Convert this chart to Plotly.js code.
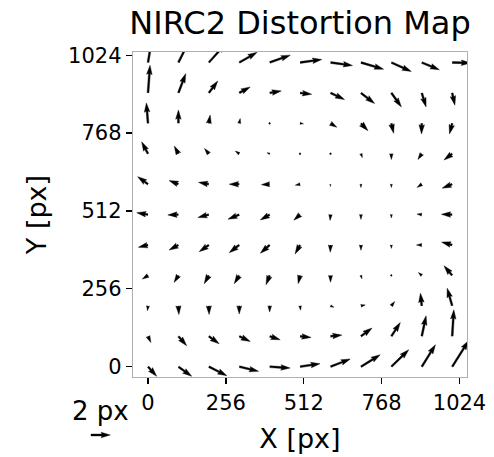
<!DOCTYPE html>
<html><head><meta charset="utf-8">
<script src="https://cdn.plot.ly/plotly-3.0.1.min.js"></script>
<style>html,body{margin:0;padding:0;background:#fff;}</style>
</head><body>
<div id="chart" style="width:494px;height:457px;"></div>
<script>
// grid positions of the distortion samples (detector pixels)
const gridX = [0, 100, 200, 300, 400, 500, 600, 700, 800, 900, 1000];
const gridY = [0, 100, 200, 300, 400, 500, 600, 700, 800, 900, 1000];
// distortion in X (px); one row per gridY value, one column per gridX value
const dxPx = [
  [0.9, 1.38, 1.87, 2.0, 2.12, 2.07, 2.05, 2.0, 1.8, 1.42, 1.7],
  [0.3, 0.86, 1.07, 1.14, 1.09, 1.14, 1.18, 1.15, 0.93, 0.45, 0.17],
  [-0.05, 0.05, 0.03, 0.0, 0.0, 0.05, 0.35, 0.45, 0.35, -0.14, -0.52],
  [-0.59, -0.45, -0.48, -0.52, -0.38, -0.2, 0.0, 0.1, 0.05, -0.35, -0.85],
  [-1.0, -0.97, -1.0, -1.04, -0.97, -0.52, -0.03, 0.0, 0.0, -0.55, -1.1],
  [-1.17, -1.1, -1.14, -1.17, -0.97, -0.65, -0.05, 0.0, 0.0, -0.5, -1.12],
  [-1.07, -0.97, -1.07, -1.04, -0.86, -0.5, 0.0, 0.0, 0.0, -0.48, -1.04],
  [-0.66, -0.43, -0.45, -0.41, -0.28, 0.05, 0.05, 0.15, 0.0, -0.4, -0.85],
  [-0.17, 0.0, 0.14, 0.1, 0.05, 0.35, 0.66, 0.73, 0.24, -0.03, -0.28],
  [0.21, 0.76, 0.93, 1.14, 1.2, 1.2, 1.45, 1.42, 1.04, 0.45, 0.28],
  [0.5, 1.25, 1.75, 1.85, 2.14, 2.25, 2.28, 2.35, 2.07, 1.83, 1.9]
];
// distortion in Y (px)
const dyPx = [
  [-1.0, -1.0, -0.93, -0.48, -0.14, 0.31, 0.8, 1.24, 1.76, 2.28, 2.7],
  [-0.65, -0.98, -0.78, -0.54, -0.36, -0.12, 0.12, 0.85, 1.43, 2.12, 2.75],
  [-0.5, -0.9, -0.9, -0.85, -0.65, -0.45, -0.15, 0.1, 0.45, 1.31, 1.83],
  [-0.38, -0.72, -0.86, -0.86, -0.97, -0.85, -0.7, -0.35, 0.05, 0.3, 1.0],
  [-0.24, -0.52, -0.69, -0.79, -0.86, -0.93, -0.75, -0.55, -0.35, 0.0, 0.3],
  [0.2, -0.03, -0.31, -0.48, -0.55, -0.58, -0.6, -0.5, -0.35, 0.05, 0.03],
  [0.78, 0.37, 0.19, 0.0, -0.05, -0.1, -0.25, -0.35, -0.35, -0.34, -0.41],
  [1.24, 0.8, 0.55, 0.28, 0.1, 0.05, -0.05, -0.4, -0.6, -0.6, -0.65],
  [2.12, 1.38, 0.86, 0.5, 0.1, -0.05, -0.41, -0.76, -1.04, -1.1, -1.1],
  [2.87, 2.0, 1.24, 0.62, 0.21, -0.14, -0.69, -1.1, -1.45, -1.45, -1.27],
  [3.0, 2.5, 1.95, 1.05, 0.76, 0.31, -0.31, -0.69, -0.93, -0.76, -0.05]
];
const xTicks = [0, 256, 512, 768, 1024];
const yTicks = [0, 256, 512, 768, 1024];
const keyValue = 2;
const keyLabel = '2 px';

// ---- layout geometry ----
const W = 494, H = 457;
const M = {l: 133, r: 27, t: 52, b: 80};
const plotW = W - M.l - M.r, plotH = H - M.t - M.b;
const xRange = [-49.3, 1048.7];
const yRange = [-33.9, 1034.5];
const pxPerUnit = plotW / (xRange[1] - xRange[0]);
const arrowPxPerPx = 9.65;          // screen px per px of distortion
const shaftPx = 1.85;               // quiver shaft width in screen px
const scale = arrowPxPerPx / pxPerUnit;   // data units per px distortion
const shaftW = shaftPx / pxPerUnit;       // shaft width in data units

// matplotlib-like quiver arrow outline in local (along, across) coords
function arrowLocal(L, w) {
  const Lw = L / w;
  const hl = 5, hal = 4.5, hw = 3;
  if (Lw < 1) {
    const pts = [];
    for (let k = 0; k < 6; k++) {
      const th = k * Math.PI / 3;
      pts.push([0.5 * Math.cos(th) * w, 0.5 * Math.sin(th) * w]);
    }
    return pts;
  }
  let f = 1, len = Lw;
  if (Lw < hl) { f = Lw / hl; len = hl; }
  const a = [0, len - hal, len - hl, len, len - hl, len - hal, 0];
  const b = [0.5, 0.5, 0.5 * hw, 0, -0.5 * hw, -0.5, -0.5];
  return a.map((v, i) => [v * f * w, b[i] * f * w]);
}

const ax = [], ay = [];
for (let j = 0; j < gridY.length; j++) {
  for (let i = 0; i < gridX.length; i++) {
    const ux = dxPx[j][i] * scale, uy = dyPx[j][i] * scale;
    const L = Math.hypot(ux, uy);
    const c = L > 0 ? ux / L : 1, s = L > 0 ? uy / L : 0;
    const pts = arrowLocal(L, shaftW);
    pts.forEach(p => {
      ax.push(gridX[i] + p[0] * c - p[1] * s);
      ay.push(gridY[j] + p[0] * s + p[1] * c);
    });
    ax.push(null); ay.push(null);
  }
}

const trace = {
  type: 'scatter', mode: 'lines', x: ax, y: ay,
  fill: 'toself', fillcolor: '#000000',
  line: {color: '#000000', width: 0.4},
  hoverinfo: 'skip', showlegend: false
};

// quiver key arrow (outside the axes, paper coordinates)
const keyTailPx = [91, 435];
const keyLenPx = keyValue * arrowPxPerPx;
const kp = arrowLocal(keyLenPx, shaftPx);
let path = '';
kp.forEach((p, i) => {
  const px = keyTailPx[0] + p[0], py = keyTailPx[1] - p[1];
  const xp = (px - M.l) / plotW, yp = (H - M.b - py) / plotH;
  path += (i === 0 ? 'M' : 'L') + xp.toFixed(5) + ',' + yp.toFixed(5);
});
path += 'Z';

const axisCommon = {
  ticks: 'outside', ticklen: 6, tickwidth: 1.3, tickcolor: '#000',
  showline: true, mirror: true, linecolor: '#b0b0b0', linewidth: 1.3,
  showgrid: false, zeroline: false, fixedrange: true,
  tickfont: {size: 21, color: '#000', family: 'DejaVu Sans'}
};

const layout = {
  width: W, height: H, margin: M,
  paper_bgcolor: '#ffffff', plot_bgcolor: '#ffffff',
  font: {family: 'DejaVu Sans', color: '#000'},
  title: {text: 'NIRC2 Distortion Map', font: {size: 32, color: '#000', family: 'DejaVu Sans'},
          x: 0.5, xref: 'paper', xanchor: 'center', y: 0.951, yref: 'container', yanchor: 'middle'},
  xaxis: Object.assign({}, axisCommon, {
    range: xRange, tickvals: xTicks, ticktext: xTicks.map(String),
    title: {text: 'X [px]', font: {size: 27, color: '#000'}, standoff: 15}
  }),
  yaxis: Object.assign({}, axisCommon, {
    range: yRange, tickvals: yTicks, ticktext: yTicks.map(String),
    title: {text: 'Y [px]', font: {size: 27, color: '#000'}, standoff: 13}
  }),
  shapes: [{type: 'path', xref: 'paper', yref: 'paper', path: path,
            fillcolor: '#000', line: {color: '#000', width: 0.4}, layer: 'above'}],
  annotations: [{xref: 'paper', yref: 'paper',
    x: (keyTailPx[0] + keyLenPx / 2 - M.l) / plotW,
    y: (H - M.b - 411) / plotH,
    text: keyLabel, showarrow: false, xanchor: 'center', yanchor: 'middle',
    font: {size: 26, color: '#000', family: 'DejaVu Sans'}}]
};

Plotly.newPlot('chart', [trace], layout, {staticPlot: true, displayModeBar: false});
</script>
</body></html>
